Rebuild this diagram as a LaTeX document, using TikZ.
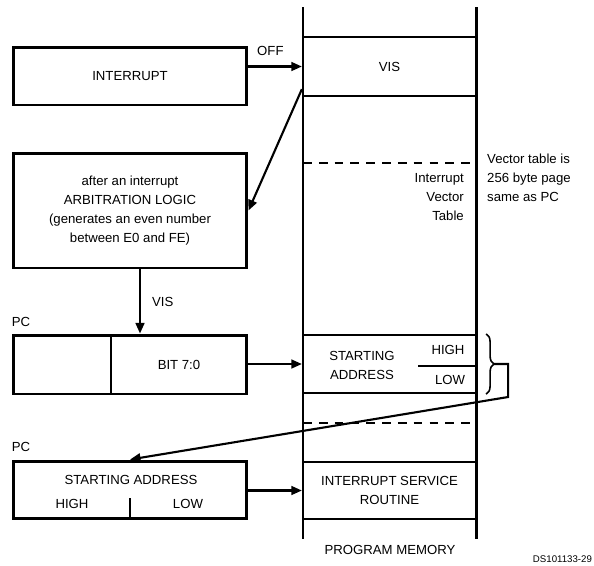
\documentclass[tikz,border=0pt]{standalone}
\usepackage{fontspec}
\setmainfont{Liberation Sans}
\usetikzlibrary{arrows.meta, calc, decorations.pathreplacing}

\begin{document}
\begin{tikzpicture}[x=0.02cm, y=-0.02cm,
  every node/.style={font=\fontsize{7.5}{10.8}\selectfont},
  blk/.style={rectangle, draw, line width=1.7pt, minimum width=4.68cm, align=center, inner sep=0pt},
  cell/.style={rectangle, draw, line width=1.3pt, minimum width=3.46cm, align=center, inner sep=0pt},
  arr/.style={-{Triangle[length=6pt, width=5pt]}, line width=1.2pt},
  sep/.style={dash pattern=on 5pt off 4pt, line width=0.9pt},
  wall/.style={line width=1.7pt}]
\useasboundingbox (0,0) rectangle (594,565);
% left side: logic and PC
\node[blk, minimum height=1.16cm] (intr) at (130,76) {INTERRUPT};
\node[blk, minimum height=2.3cm] (arb) at (130,210.5) {after an interrupt\\ARBITRATION LOGIC\\(generates an even number\\between E0 and FE)};
\node (pc1) at (21,322) {PC};
\node[blk, minimum height=1.18cm] (pcv) at (130,364.5) {};
\draw[line width=1.3pt] (111,335) -- (111,394);
\node (bit) at (179,365) {BIT 7:0};
\node (pc2) at (21,447) {PC};
\node[blk, minimum height=1.14cm] (pcs) at (130,489.5) {};
\node (pcsa) at (131,480) {STARTING ADDRESS};
\node (pch) at (72,504) {HIGH};
\node (pcl) at (188,504) {LOW};
\draw[line width=1.3pt] (130,498) -- (130,518);
% program memory
\node[cell, minimum height=1.18cm] (vis) at (389.5,66.5) {VIS};
\draw[sep] (303,163) -- (476,163);
\node[anchor=east, align=right] (ivt) at (470,197) {Interrupt\\Vector\\Table};
\node[anchor=west, align=left] (note) at (481,178) {Vector table is\\256 byte page\\same as PC};
\node[cell, minimum height=1.16cm] (sa) at (389.5,364) {};
\node[align=center] (satxt) at (362,365) {STARTING\\ADDRESS};
\node (hi) at (448,350) {HIGH};
\node (lo) at (450,380) {LOW};
\draw[line width=1.3pt] (418,366) -- (476,366);
\draw[sep] (303,423) -- (476,423);
\node[cell, minimum height=1.14cm] (isr) at (389.5,490.5) {INTERRUPT SERVICE\\ROUTINE};
\draw[wall] (303,7) -- (303,539) (476,7) -- (476,539);
\node (pm) at (390,550) {PROGRAM MEMORY};
\node[font=\fontsize{5.5}{6}\selectfont, anchor=south east, inner sep=1pt] (ds) at (594,565) {DS101133-29};
% connectors
\draw[arr] (intr.east |- vis.west) -- node[above, pos=0.41, yshift=2pt] {OFF} (vis.west);
\draw[arr] ($(vis.south west)+(0,-8)$) -- (arb.east);
\draw[arr] ($(arb.south)+(10,0)$) -- node[right=3pt] {VIS} ($(pcv.north)+(10,0)$);
\draw[arr] (pcv.east |- sa.west) -- (sa.west);
\draw[arr] (pcs.east |- isr.west) -- (isr.west);
\draw[decorate, decoration={brace, amplitude=4.5pt}, line width=0.9pt]
  ($(sa.north east)+(9,0)$) coordinate (bt) -- ($(sa.south east)+(9,0)$) coordinate (bb);
\coordinate (tip) at ($(bt)!0.5!(bb)+(8,0)$);
\draw[arr] (tip) -- ++(14,0) -- ++(0,33) -- (pcs.north);
\end{tikzpicture}
\end{document}
